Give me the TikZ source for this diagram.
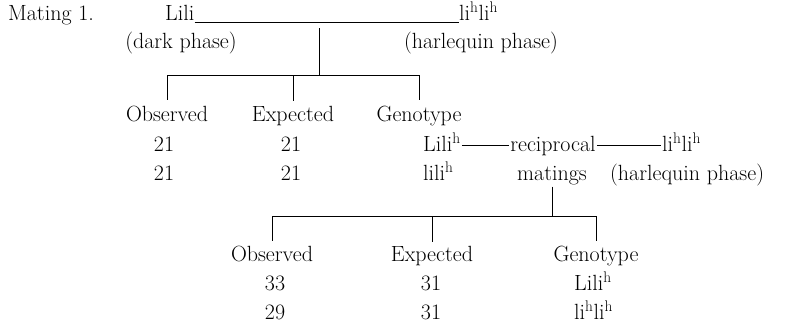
\documentclass[tikz,border=0pt]{standalone}
\usepackage{tikz}
\usetikzlibrary{positioning}

\begin{document}
\begin{tikzpicture}[x=1pt, y=-1pt, font=\fontsize{22}{26}\selectfont,
    lbl/.style={inner sep=0pt, anchor=base},
    lblw/.style={inner sep=0pt, anchor=base west},
    conn/.style={line width=0.8pt}]
    \useasboundingbox (0,0) rectangle (793,327);
    % first mating
    \node[lblw] (mating) at (8,20) {Mating 1.};
    \node[lblw] (lili) at (165,20) {Lili};
    \node[lblw] (hlih) at (459,20) {li\textsuperscript{h}li\textsuperscript{h}};
    \node[lbl] (dark) at (181,48) {(dark phase)};
    \node[lbl] (harl) at (481,48) {(harlequin phase)};
    \draw[conn] ([yshift=-2pt]lili.base east) -- ([yshift=-2pt]hlih.base west);
    \coordinate (s1) at (319,28);
    \coordinate (j1) at (319,75);
    \draw[conn] (s1) -- (j1);
    \node[lbl] (obsA) at (167,121) {Observed};
    \node[lbl] (expA) at (293,121) {Expected};
    \node[lbl] (genA) at (419,121) {Genotype};
    \draw[conn] (obsA |- j1) -- (genA |- j1);
    \draw[conn] (obsA |- j1) -- ([yshift=5pt]obsA.north);
    \draw[conn] (expA |- j1) -- ([yshift=5pt]expA.north);
    \draw[conn] (genA |- j1) -- ([yshift=5pt]genA.north);
    \node[lbl] (oA1) at (164,151) {21};
    \node[lbl] (oA2) at (164,180) {21};
    \node[lbl] (eA1) at (291,151) {21};
    \node[lbl] (eA2) at (291,180) {21};
    \node[lblw] (gA1) at (423,151) {Lili\textsuperscript{h}};
    \node[lblw] (gA2) at (423,180) {lili\textsuperscript{h}};
    % reciprocal matings
    \node[lbl] (recip) at (553,151) {reciprocal};
    \node[lbl] (mat) at (552,180) {matings};
    \node[lblw] (hlihB) at (662,151) {li\textsuperscript{h}li\textsuperscript{h}};
    \node[lblw] (harlB) at (610,180) {(harlequin phase)};
    \draw[conn] ([xshift=1pt,yshift=6pt]gA1.base east) -- ([xshift=-1pt,yshift=6pt]recip.base west);
    \draw[conn] ([xshift=1pt,yshift=6pt]recip.base east) -- ([xshift=-1pt,yshift=6pt]hlihB.base west);
    \coordinate (j2) at (552,216);
    \draw[conn] ([yshift=-2pt]mat.south -| j2) -- (j2);
    \node[lbl] (obsB) at (272,261) {Observed};
    \node[lbl] (expB) at (432,261) {Expected};
    \node[lbl] (genB) at (596,261) {Genotype};
    \draw[conn] (obsB |- j2) -- (genB |- j2);
    \draw[conn] (obsB |- j2) -- ([yshift=4pt]obsB.north);
    \draw[conn] (expB |- j2) -- ([yshift=4pt]expB.north);
    \draw[conn] (genB |- j2) -- ([yshift=4pt]genB.north);
    \node[lbl] (oB1) at (275,290) {33};
    \node[lbl] (oB2) at (275,319) {29};
    \node[lbl] (eB1) at (431,290) {31};
    \node[lbl] (eB2) at (431,319) {31};
    \node[lblw] (gB1) at (574,290) {Lili\textsuperscript{h}};
    \node[lblw] (gB2) at (574,319) {li\textsuperscript{h}li\textsuperscript{h}};
\end{tikzpicture}
\end{document}
